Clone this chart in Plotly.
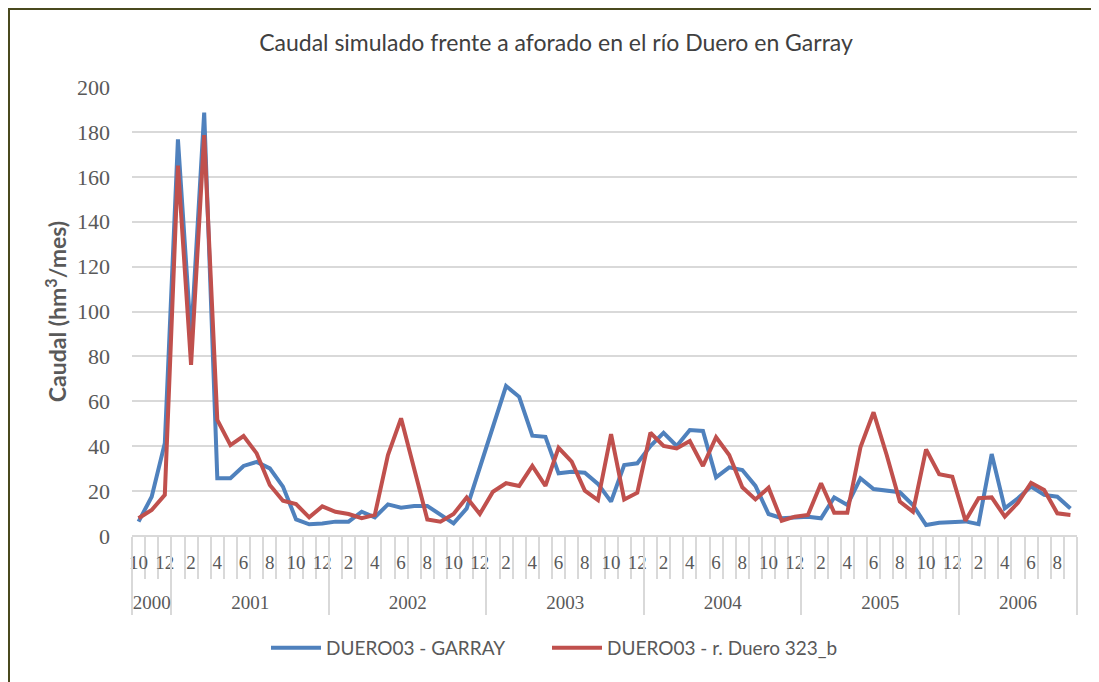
import plotly.graph_objects as go

# Monthly series, Oct 2000 - Sep 2006 (hm3/mes)
years = [2000] * 3 + [2001] * 12 + [2002] * 12 + [2003] * 12 + [2004] * 12 + [2005] * 12 + [2006] * 9
months = [10, 11, 12] + list(range(1, 13)) * 5 + list(range(1, 10))

garray = [6.4, 17.5, 41.3, 176.7, 88, 188.6, 25.7, 25.7, 31.2, 33.0, 30.1, 22.0,
          7.4, 5.2, 5.6, 6.4, 6.4, 10.8, 8.3, 14.1, 12.6, 13.4, 13.4, 9.4,
          5.6, 12.3, 30.9, 48.7, 66.8, 62.0, 44.7, 44.2, 27.9, 28.6, 28.2, 23.2,
          15.3, 31.6, 32.4, 40.1, 46.0, 40.1, 47.2, 46.8, 26.1, 30.6, 29.4, 22.3,
          9.8, 7.9, 8.3, 8.6, 7.9, 17.2, 13.8, 25.7, 20.9, 20.0, 19.5, 13.8,
          4.9, 5.9, 6.2, 6.5, 5.3, 36.5, 12.3, 16.8, 22.0, 18.3, 17.5, 12.3]

duero_323b = [7.9, 11.6, 18.3, 165.0, 76.2, 178.6, 51.7, 40.5, 44.5, 36.8, 22.7, 15.7,
              14.2, 8.3, 13.2, 10.8, 9.8, 7.9, 9.4, 36.1, 52.4, 29.4, 7.4, 6.4,
              9.8, 17.2, 9.8, 19.7, 23.5, 22.3, 31.2, 22.3, 39.3, 33.1, 20.2, 16.0,
              45.4, 16.3, 19.3, 46.0, 40.1, 39.0, 42.3, 31.2, 44.0, 36.1, 21.7, 16.3,
              21.5, 6.8, 8.6, 9.4, 23.5, 10.4, 10.4, 39.5, 55.1, 36.1, 15.3, 10.8,
              38.6, 27.5, 26.4, 6.8, 16.8, 17.2, 8.6, 14.8, 23.7, 20.5, 10.1, 9.4]

# one slot per month on the axis
pos = list(range(len(months)))

# month labels every other month, year labels centred on their block
month_ticks = [p for p, m in zip(pos, months) if m % 2 == 0]
month_text = [str(m) for m in months if m % 2 == 0]
year_list = sorted(set(years))
year_first = [years.index(y) for y in year_list]
year_last = [len(years) - 1 - years[::-1].index(y) for y in year_list]
year_mid = [(a + b) / 2 for a, b in zip(year_first, year_last)]
year_bounds = [a - 0.5 for a in year_first] + [year_last[-1] + 0.5]

grid = "#D9D9D9"
text_col = "#595959"
xr = [-0.5, len(pos) - 0.5]

fig = go.Figure()
fig.add_trace(go.Scatter(x=pos, y=garray, mode="lines", name="DUERO03 - GARRAY",
                         line=dict(color="#4F81BD", width=4), legend="legend"))
fig.add_trace(go.Scatter(x=pos, y=duero_323b, mode="lines", name="DUERO03 - r. Duero 323_b",
                         line=dict(color="#C0504D", width=4), legend="legend2"))
# carrier for the year axis
fig.add_trace(go.Scatter(x=[], y=[], xaxis="x2", showlegend=False, hoverinfo="skip"))

# page body adds an 8px offset, so the figure is 8px smaller
W, H = 1091, 674
ml, mr, mt, mb = 124, 22, 79, 146
pw, ph = W - ml - mr, H - mt - mb

legend_style = dict(orientation="h", xanchor="left", y=-(648 - 536) / ph, yanchor="middle",
                    font=dict(size=19, color=text_col), itemwidth=50)

fig.update_layout(
    width=W, height=H,
    margin=dict(l=ml, r=mr, t=mt, b=mb),
    paper_bgcolor="white", plot_bgcolor="white",
    font=dict(family="Lato", color=text_col),
    title=dict(text="Caudal simulado frente a aforado en el río Duero en Garray",
               x=(556 - 8) / W, xanchor="center", y=1 - 35 / H, yanchor="middle",
               font=dict(size=23, color="#404040")),
    legend=dict(x=(266 - 132) / pw, **legend_style),
    legend2=dict(x=(547 - 132) / pw, **legend_style),
    showlegend=True,
    xaxis=dict(
        range=xr, showgrid=False, showline=False, zeroline=False,
        tickmode="array", tickvals=month_ticks, ticktext=month_text, ticks="",
        ticklabelstandoff=13,
        tickfont=dict(family="Liberation Serif", size=19, color=text_col),
        minor=dict(tickmode="linear", tick0=-0.5, dtick=1, ticks="outside", ticklen=42,
                   tickwidth=2, tickcolor=grid, showgrid=False),
    ),
    xaxis2=dict(
        range=xr, overlaying="x", anchor="y", side="bottom",
        showgrid=False, showline=False, zeroline=False,
        tickmode="array", tickvals=year_mid, ticktext=[str(y) for y in year_list], ticks="",
        ticklabelstandoff=53,
        tickfont=dict(family="Liberation Serif", size=19, color=text_col),
        minor=dict(tickmode="array", tickvals=year_bounds, ticks="outside", ticklen=78,
                   tickwidth=2, tickcolor=grid, showgrid=False),
    ),
)

fig.update_yaxes(
    range=[0, 200], dtick=20,
    showgrid=True, gridcolor=grid, gridwidth=2,
    zeroline=True, zerolinecolor=grid, zerolinewidth=2,
    showline=False, ticks="",
    ticklabelstandoff=21,
    tickfont=dict(family="Liberation Serif", size=22, color=text_col),
    title=dict(text="<b>Caudal (hm<sup>3</sup>/mes)</b>", standoff=3,
               font=dict(family="Lato", size=23, color=text_col)),
)

# outer frame of the chart box
fig.add_shape(type="rect", xref="paper", yref="paper",
              x0=(0.5 - ml) / pw, x1=(W + 10 - ml) / pw,
              y0=-(H + 10 - mt - ph) / ph, y1=1 + (mt - 0.5) / ph,
              line=dict(color="#4A4A1E", width=3), fillcolor="rgba(0,0,0,0)", layer="above")

fig.write_html("out.html")
